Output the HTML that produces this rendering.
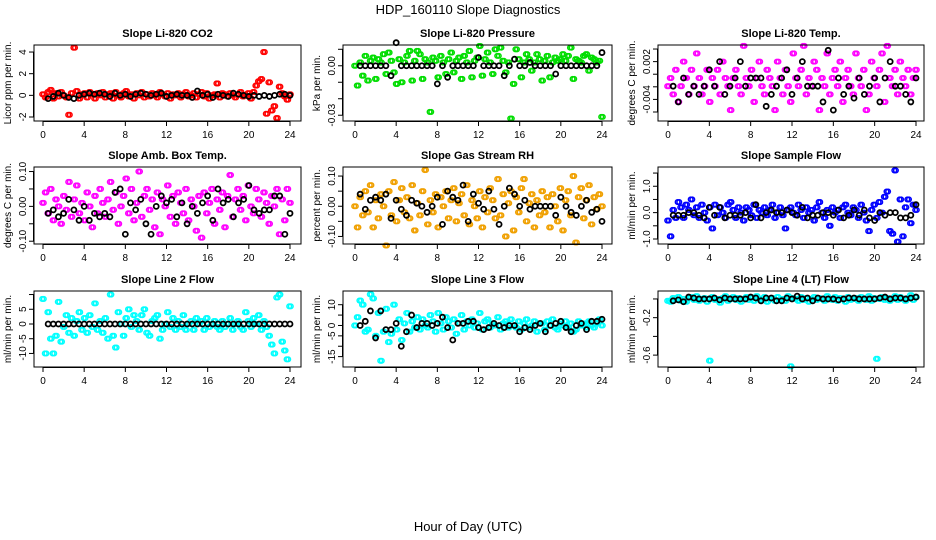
<!DOCTYPE html>
<html><head><meta charset="utf-8"><style>
body{margin:0;background:#fff}
svg{display:block;font-family:"Liberation Sans",Arial,sans-serif}
</style></head><body>
<svg id="chart" width="936" height="540" viewBox="0 0 936 540">
<text x="468" y="14" text-anchor="middle" font-size="13">HDP_160110  Slope Diagnostics</text>
<text x="468" y="531" text-anchor="middle" font-size="13">Hour of Day (UTC)</text>
</svg>
<script>
const xTicks=[0,4,8,12,16,20,24];
const titles=["Slope Li-820 CO2","Slope Li-820 Pressure","Slope Li-820 Temp.","Slope Amb. Box Temp.","Slope Gas Stream RH","Slope Sample Flow","Slope Line 2 Flow","Slope Line 3 Flow","Slope Line 4 (LT) Flow"];
const yLabels=["Licor ppm per min.","kPa per min.","degrees C per min.","degrees C per min.","percent per min.","ml/min per min.","ml/min per min.","ml/min per min.","ml/min per min."];
const colors=["#ff0000","#00dd00","#ff00ff","#ff00ff","#f0a000","#0000ff","#00ffff","#00ffff","#00ffff"];
const yLims=[[-2.37,4.65],[-0.0335,0.0126],[-0.00743,0.00464],[-0.108,0.113],[-0.125,0.13],[-1.19,1.73],[-14.6,11.2],[-20,16.6],[-0.727,0.085]];
const yTicks=[[-2,0,2,4],[-0.03,-0.02,-0.01,0,0.01],[-0.006,-0.004,-0.002,0,0.002,0.004],[-0.1,-0.05,0,0.05,0.1],[-0.1,-0.05,0,0.05,0.1],[-1,-0.5,0,0.5,1,1.5],[-10,-5,0,5,10],[-15,-10,-5,0,5,10],[-0.6,-0.4,-0.2,0]];
const yTickLabels=[["-2","0","2","4"],["-0.03","","","0.00",""],["","-0.004","","","0.002",""],["-0.10","","0.00","","0.10"],["-0.10","","0.00","","0.10"],["-1.0","","0.0","","1.0",""],["-10","-5","0","5",""],["-15","","-5","0","","10"],["-0.6","","-0.2",""]];
const colVals=[
[0.1,-0.2,0.3,0.5,-0.3,0.2,-0.1,0.3,0.0,-0.2,-1.8,0.2,4.4,0.4,-0.3,0.1,0.2,-0.2,0.3,0.1,-0.3,0.2,0.0,0.3,-0.2,0.1,0.2,-0.3,0.3,0.0,-0.2,0.2,0.4,-0.1,0.1,-0.3,0.2,0.0,0.3,-0.2,0.1,-0.1,0.2,0.0,-0.2,0.3,0.1,-0.1,0.2,-0.3,0.1,0.0,0.2,-0.2,0.1,0.3,-0.1,0.0,0.2,-0.2,0.1,0.3,-0.1,0.2,-0.3,0.0,0.1,1.1,-0.2,0.2,0.1,-0.1,0.2,0.0,-0.2,0.1,0.3,-0.1,0.0,0.2,-0.3,0.3,0.9,1.3,1.5,4.0,-1.7,1.2,-1.4,-1.0,-2.1,0.8,0.2,-0.1,-0.4,0.1],
[0,-0.012,0.002,-0.006,0.006,-0.009,0.003,0.005,-0.008,0.004,0.002,0.007,-0.005,0.008,0.003,-0.004,-0.011,0.004,-0.010,0.002,0.006,0.009,-0.009,0.003,0.009,0.007,-0.008,0.004,0.002,-0.028,0.005,0.003,-0.007,0.006,0.002,-0.005,0.004,0.008,-0.004,0.003,0.005,-0.008,0.006,0.002,0.009,-0.007,0.003,0.005,0.012,-0.006,0.004,0.008,0.002,-0.005,0.010,0.006,0.011,0.003,-0.004,0.002,-0.032,-0.011,0.010,0.004,-0.007,0.002,0.007,0.004,-0.003,0.002,0.007,0.004,-0.009,0.003,0.006,-0.007,0.002,0.005,0.003,0.004,0.007,0.003,0.006,0.011,-0.008,0.004,0.003,0.002,0.006,0.007,-0.003,0.005,0.004,0.002,0.003,-0.031],
[-0.0019,-0.0006,-0.0032,0.0007,-0.0044,-0.0019,0.0020,-0.0006,-0.0032,0.0007,-0.0019,0.0033,-0.0006,-0.0032,-0.0019,0.0007,-0.0044,-0.0006,-0.0019,0.0007,-0.0032,0.0020,-0.0006,-0.0019,-0.0057,-0.0006,0.0007,-0.0019,-0.0032,0.0045,-0.0006,-0.0019,0.0007,-0.0044,-0.0006,0.0020,-0.0019,-0.0032,0.0007,-0.0006,-0.0019,-0.0057,0.0020,-0.0006,-0.0032,0.0007,-0.0019,-0.0044,0.0033,-0.0006,-0.0019,0.0007,0.0045,-0.0032,-0.0006,-0.0019,0.0020,0.0007,-0.0057,-0.0006,-0.0019,0.0033,-0.0032,-0.0006,0.0007,-0.0019,0.0020,-0.0044,-0.0006,0.0007,-0.0019,-0.0032,0.0033,-0.0006,-0.0019,0.0007,-0.0057,-0.0032,0.0020,-0.0006,-0.0019,0.0007,0.0033,-0.0044,0.0045,-0.0006,-0.0019,0.0007,-0.0032,0.0020,-0.0006,-0.0019,0.0007,-0.0032,-0.0006,0.0007],
[0.01,0.04,-0.02,0.05,-0.04,0.02,0.00,-0.05,0.03,-0.01,0.07,-0.03,0.02,0.06,-0.02,0.01,-0.04,0.04,0.00,-0.06,0.03,-0.02,0.05,0.01,-0.03,0.02,0.07,-0.01,0.04,-0.05,0.00,0.03,0.08,-0.02,0.05,-0.04,0.01,0.10,-0.03,0.03,0.05,-0.01,0.02,-0.06,0.04,-0.08,0.02,0.00,0.06,-0.03,0.03,-0.05,0.04,0.01,-0.02,0.05,-0.04,0.02,0.00,-0.07,0.03,-0.09,0.04,-0.02,0.01,0.05,-0.05,0.02,-0.01,0.04,-0.06,0.03,0.09,-0.03,0.02,0.05,-0.01,0.03,-0.04,0.06,0.00,-0.02,0.05,0.02,-0.03,0.04,0.01,-0.05,0.03,0.00,0.05,-0.08,0.02,-0.04,0.05,0.01],
[0.00,-0.07,0.03,-0.03,0.05,-0.02,0.07,-0.07,0.02,-0.04,0.04,0.00,-0.13,0.05,-0.03,0.08,-0.05,0.02,0.06,-0.02,0.03,-0.04,0.07,-0.08,0.01,-0.03,0.05,0.12,-0.06,0.02,-0.02,0.04,-0.07,0.03,0.00,0.05,-0.04,0.02,0.06,-0.05,0.01,0.04,-0.03,0.07,-0.06,0.02,0.00,-0.04,0.05,-0.07,0.03,-0.02,0.06,0.02,-0.04,0.09,-0.03,0.04,-0.10,0.01,0.05,-0.08,0.03,-0.02,0.06,0.09,-0.05,0.01,0.04,-0.07,0.02,-0.03,0.05,-0.02,0.03,-0.07,0.04,0.00,-0.05,0.06,-0.08,0.02,0.05,-0.03,0.10,-0.12,0.03,0.06,-0.04,0.02,0.07,-0.06,0.03,-0.01,0.04,0.00],
[-0.3,-0.9,0.1,-0.2,0.4,0.2,-0.2,0.3,0.1,0.5,-0.1,0.2,-0.2,0.3,0.0,-0.3,0.2,-0.6,0.3,-0.1,0.2,0.0,-0.2,0.3,0.4,0.1,-0.2,0.2,0.0,-0.3,0.2,0.1,-0.1,0.3,-0.2,0.1,0.0,0.2,-0.1,0.1,0.3,-0.2,0.0,0.2,-0.1,-0.6,0.1,0.2,0.0,-0.1,0.3,0.1,-0.2,0.2,0.0,0.1,-0.3,0.2,0.4,0.0,-0.2,0.1,-0.5,0.2,0.0,0.1,-0.2,0.2,0.3,0.0,-0.1,0.2,0.1,-0.2,0.3,0.0,-0.3,-0.7,0.1,0.3,-0.2,0.4,0.0,0.6,0.8,-0.7,-0.8,1.6,-1.1,0.5,-0.9,0.2,0.5,-0.4,0.3,0.1],
[8.5,-10,4,-5,-10,-4,7.5,-6,-1,3,-3,2,-4,1,4,-2,2,-3,3,-1,7,-2,1,-3,2,-5,10,-4,-8,4,0,-4,2,5,-1,3,1,-2,3,5,-3,-4,1,2,3,-5,-2,0,4,-1,2,-2,1,-1,3,-2,0,1,-2,2,0,1,-2,2,-1,0,1,-1,-2,1,-1,0,2,-2,0,1,-1,-2,4,1,-1,2,0,3,-2,1,-1,-4,-7,-10,9,10,-6,-9,-12,6],
[0,4,12,10,-3,-2,15,13,-5,6,-17,-3,8,-8,-4,10,-2,3,-7,1,6,-3,2,-1,4,-2,3,0,-1,5,2,-3,6,1,-2,4,2,-1,3,-4,1,5,-2,2,0,3,-1,1,6,-2,2,3,-1,1,0,4,-2,1,2,-1,3,0,-1,2,-2,1,3,-1,0,2,-3,1,1,-2,2,0,3,-1,-2,1,0,2,-1,1,-3,-2,2,0,1,-1,2,0,-1,1,3,0],
[-0.02,-0.03,0.01,-0.01,0.02,-0.02,0.00,-0.03,0.01,0.02,-0.01,0.03,-0.02,0.00,0.01,-0.03,-0.66,0.02,-0.01,0.00,-0.04,0.01,0.03,-0.02,0.00,0.02,-0.01,0.01,-0.03,0.00,0.02,-0.01,0.01,-0.02,0.03,0.00,-0.01,0.02,-0.03,0.00,0.01,-0.02,0.02,-0.01,0.00,-0.02,0.03,-0.72,0.01,0.00,-0.02,0.02,-0.01,0.01,-0.03,0.00,0.02,-0.01,0.01,0.00,-0.02,0.03,0.00,-0.01,0.02,-0.02,0.01,0.00,-0.03,0.02,-0.01,0.00,0.01,-0.02,0.02,0.00,-0.01,0.03,-0.02,0.01,-0.64,0.00,0.02,-0.01,0.01,-0.02,0.00,0.03,-0.01,0.02,0.00,-0.02,0.01,0.04,-0.01,0.02]
];
const blkVals=[
[-0.3,-0.1,0.2,0.0,-0.2,-0.3,0.0,0.1,0.2,0.1,0.2,0.1,-0.1,0.2,0.0,0.1,-0.1,0.1,0.2,0.1,0.0,0.1,0.2,-0.1,0.0,0.1,0.0,0.0,-0.2,0.4,0.0,0.1,-0.2,0.1,0.0,-0.1,0.2,0.1,0.0,-0.1,0.0,-0.1,0.0,-0.1,0.0,0.1,0.1,0.0],
[0,0,0,0,0,0,-0.006,0.014,0,0,0,0,0,0,0,-0.011,0,-0.007,0,0,0,0,0,0.005,0,0,0,0,-0.006,0,0.004,0,0,0.002,0,0,0,0,-0.005,0,0,0,0,0,0,0,0,0.008],
[-0.0019,-0.0044,-0.0006,-0.0032,-0.0019,-0.0032,-0.0019,0.0007,-0.0019,0.0020,-0.0032,-0.0019,-0.0006,0.0020,-0.0019,-0.0006,-0.0006,-0.0006,-0.0051,-0.0032,-0.0019,-0.0006,0.0007,-0.0032,-0.0006,0.0020,-0.0019,-0.0019,-0.0019,-0.0044,0.0038,-0.0057,-0.0006,-0.0032,-0.0019,-0.0038,-0.0006,-0.0032,-0.0019,-0.0006,-0.0044,-0.0006,0.0020,-0.0019,-0.0019,-0.0032,-0.0044,-0.0006],
[-0.02,-0.01,-0.03,-0.02,0.02,-0.01,-0.04,0.00,-0.04,-0.02,-0.03,-0.02,-0.03,0.04,0.05,-0.08,0.01,-0.01,0.02,-0.05,-0.08,0.00,0.03,0.01,0.02,-0.03,0.01,-0.05,0.00,-0.02,0.01,0.03,-0.04,0.05,0.01,0.02,-0.03,0.01,0.02,0.06,-0.01,-0.02,-0.01,-0.01,0.03,0.03,-0.08,-0.02],
[0.04,-0.01,0.02,0.03,0.02,0.04,-0.04,0.02,-0.01,-0.03,0.02,0.01,0.00,-0.02,0.00,0.03,-0.06,0.05,0.03,0.02,0.07,-0.05,0.04,0.01,-0.01,0.05,-0.01,-0.06,0.00,0.06,0.04,0.00,0.02,-0.01,0.00,0.00,0.00,0.00,-0.03,0.03,0.00,-0.02,-0.03,0.00,0.02,-0.02,-0.01,-0.05],
[-0.1,-0.1,-0.1,0.0,0.0,-0.1,-0.2,0.2,-0.1,0.2,-0.2,-0.1,-0.1,-0.1,0.0,-0.2,0.3,-0.2,0.0,0.1,0.0,0.0,0.1,0.0,-0.1,0.2,-0.2,-0.1,-0.1,0.0,0.0,-0.1,0.1,-0.2,-0.1,0.1,-0.1,0.1,-0.2,-0.3,0.0,-0.1,0.0,0.0,-0.2,-0.2,-0.1,0.3],
[0,0,0,0,0,0,0,0,0,0,0,0,0,0,0,0,0,0,0,0,0,0,0,0,0,0,0,0,0,0,0,0,0,0,0,0,0,0,0,0,0,0,0,0,0,0,0,0],
[0,2,7,-6,7,-2,-2,1,-10,-3,5,-1,1,1,0,1,4,-1,-7,1,1,2,2,-1,-2,-1,1,0,-1,0,0,-3,-1,-2,0,1,-3,0,1,2,-1,-3,0,1,-2,2,2,3],
[-0.02,-0.01,-0.03,0.02,0.01,0.00,0.00,0.00,0.01,-0.01,0.01,0.00,0.00,0.00,0.00,0.02,0.01,-0.02,0.01,0.01,-0.02,-0.02,0.01,0.00,0.03,0.00,0.01,-0.02,0.01,0.00,0.00,0.00,-0.01,0.00,0.01,0.01,0.00,0.00,0.00,0.00,0.01,0.02,0.00,0.01,0.01,0.00,0.01,0.02]
];
const NS="http://www.w3.org/2000/svg";
const svg=document.getElementById('chart');
const colBox=[[34,301,43,290],[343,612,355,602],[658,924,668,916]];
const rowBox=[[45,121],[167,244],[291,367]];
const smear=[-0.8,0.8];
function mk(tag,attrs,parent){const e=document.createElementNS(NS,tag);for(const k in attrs)e.setAttribute(k,attrs[k]);(parent||svg).appendChild(e);return e;}
for(let p=0;p<9;p++){
  const [bl,br,x0,x24]=colBox[p%3];const [bt,bb]=rowBox[Math.floor(p/3)];
  const [ymin,ymax]=yLims[p];
  const xs=h=>x0+(x24-x0)*h/24;
  const ys=v=>bb-(v-ymin)/(ymax-ymin)*(bb-bt);
  const g=mk('g',{});
  
  
  const t=mk('text',{x:(bl+br)/2,y:bt-8,'text-anchor':'middle','font-size':'11','font-weight':'bold'},g);
  t.textContent=titles[p];
  
  
  const yl=mk('text',{x:0,y:0,'text-anchor':'middle','font-size':'10',transform:`translate(${bl-23},${(bt+bb)/2}) rotate(-90)`},g);
  yl.textContent=yLabels[p];
  
  
  const cv=colVals[p];
  cv.forEach((v,i)=>{
    smear.forEach(dx=>{
      const c=mk('circle',{cx:xs(i*24/(cv.length-1))+dx,cy:ys(v),r:2.3,fill:'none',stroke:colors[p],'stroke-width':1.5},g);
      
      
    });
  });
  const bv=blkVals[p];
  bv.forEach((v,i)=>{
    const c=mk('circle',{cx:xs((i+1)*24/bv.length),cy:ys(v),r:2.5,fill:'none',stroke:'#000','stroke-width':1.8},g);
    
    
  });
  const box=mk('rect',{x:bl,y:bt,width:br-bl,height:bb-bt,fill:'none',stroke:'#000','stroke-width':1},g);
  
  
  mk('line',{x1:xs(0),x2:xs(24),y1:bb+0.5,y2:bb+0.5,stroke:'#000'},g);
  xTicks.forEach(h=>{
    mk('line',{x1:xs(h),x2:xs(h),y1:bb,y2:bb+5,stroke:'#000'},g);
    const tl=mk('text',{x:xs(h),y:bb+17,'text-anchor':'middle','font-size':'10'},g);
    tl.textContent=h;
    
    
  });
  const yt=yTicks[p];
  mk('line',{x1:bl-0.5,x2:bl-0.5,y1:ys(yt[0]),y2:ys(yt[yt.length-1]),stroke:'#000'},g);
  yt.forEach((v,i)=>{
    mk('line',{x1:bl-5,x2:bl,y1:ys(v),y2:ys(v),stroke:'#000'},g);
    if(yTickLabels[p][i]){
      const tl=mk('text',{x:0,y:0,'text-anchor':'middle','font-size':'10',transform:`translate(${bl-8},${ys(v)}) rotate(-90)`},g);
      tl.textContent=yTickLabels[p][i];
      
      
    }
  });
}
</script>
</body></html>
